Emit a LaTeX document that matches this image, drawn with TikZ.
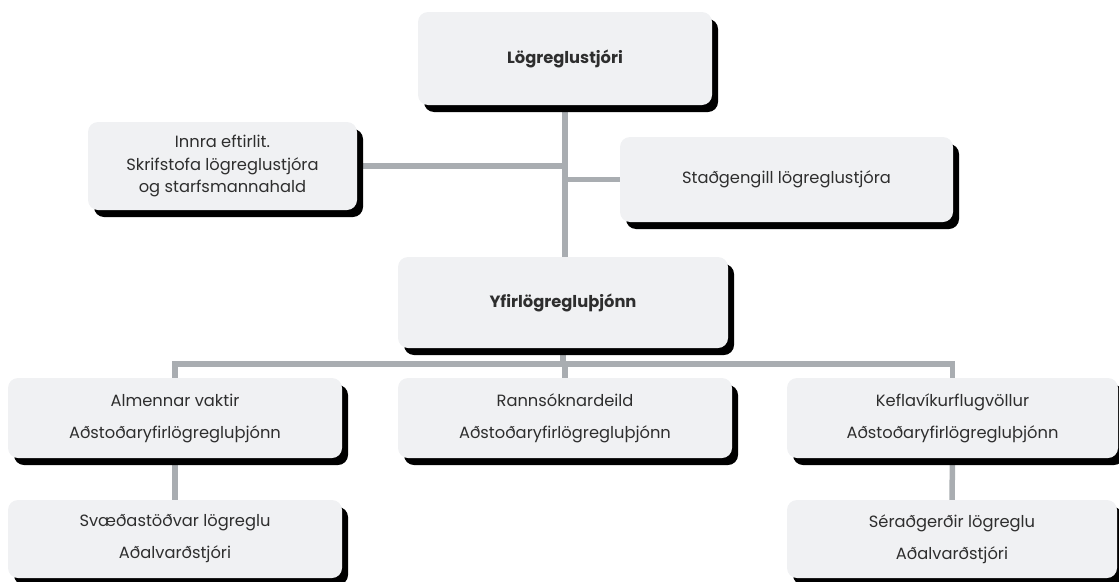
\documentclass[tikz,border=0pt]{standalone}
\usepackage{fontspec}
\setmainfont{Poppins}
\usetikzlibrary{shadows,backgrounds}
\definecolor{boxfill}{HTML}{F0F1F3}
\definecolor{connc}{HTML}{A9ADB1}
\definecolor{txt}{HTML}{2E2E2E}
\tikzset{
  orgbox/.style={rounded corners=10pt, fill=boxfill, draw=none, text=txt, align=center,
    inner sep=0pt, font=\fontsize{16.3}{32}\selectfont,
    drop shadow={shadow xshift=6pt, shadow yshift=-7pt, fill=black, opacity=1}},
  conn/.style={draw=connc, line width=5.5pt}
}
\begin{document}
\begin{tikzpicture}[x=1pt,y=-1pt]
\useasboundingbox (0,0) rectangle (1119,581);
\node[orgbox, minimum width=294pt, minimum height=93pt, font=\fontsize{16.3}{20}\selectfont\bfseries] (A) at (565,58.5) {Lögreglustjóri};
\node[orgbox, minimum width=269pt, minimum height=88pt, font=\fontsize{16.3}{22.5}\selectfont] (B) at (222.5,166) {Innra eftirlit.\\Skrifstofa lögreglustjóra\\og starfsmannahald};
\node[orgbox, minimum width=333pt, minimum height=85pt] (C) at (786.5,179.5) {Staðgengill lögreglustjóra};
\node[orgbox, minimum width=330pt, minimum height=91pt, font=\fontsize{16.3}{20}\selectfont\bfseries] (D) at (563,302.5) {Yfirlögregluþjónn};
\node[orgbox, minimum width=334pt, minimum height=80pt] (E) at (175,418) {Almennar vaktir\\Aðstoðaryfirlögregluþjónn};
\node[orgbox, minimum width=334pt, minimum height=80pt] (F) at (565,418) {Rannsóknardeild\\Aðstoðaryfirlögregluþjónn};
\node[orgbox, minimum width=331pt, minimum height=80pt] (G) at (952.5,418) {Keflavíkurflugvöllur\\Aðstoðaryfirlögregluþjónn};
\node[orgbox, minimum width=334pt, minimum height=78pt] (H) at (175,539) {Svæðastöðvar lögreglu\\Aðalvarðstjóri};
\node[orgbox, minimum width=330pt, minimum height=78pt] (I) at (952,539) {Séraðgerðir lögreglu\\Aðalvarðstjóri};
\coordinate (bus) at (0,364);
\begin{pgfonlayer}{background}
\draw[conn] (A.south) -- (A.south |- D.north);
\draw[conn] (B.east) -- (B.east -| A.south);
\draw[conn] (C.west) -- (C.west -| A.south);
\draw[conn] (D.south) -- (D.south |- bus);
\draw[conn] (E.north) -- (E.north |- bus) -- (bus -| G.north) -- (G.north);
\draw[conn] (F.north) -- (F.north |- bus);
\draw[conn] (E.south) -- (H.north);
\draw[conn] (G.south) -- (I.north);
\end{pgfonlayer}
\end{tikzpicture}
\end{document}
